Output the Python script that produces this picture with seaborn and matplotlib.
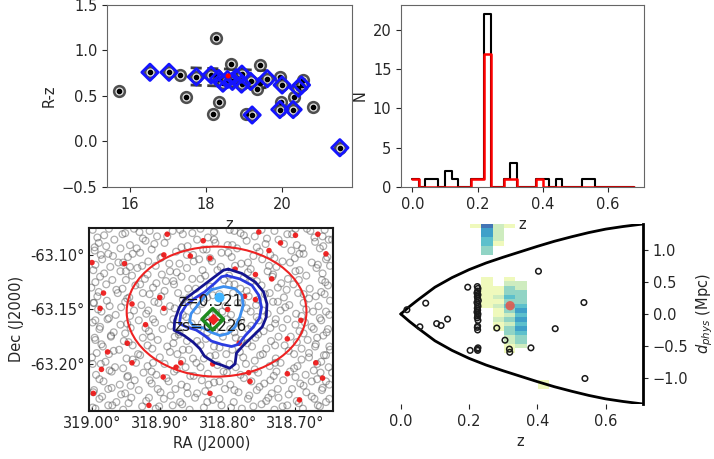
import numpy as np
import matplotlib
matplotlib.use("Agg")
import matplotlib.pyplot as plt
from matplotlib.patches import Ellipse
from matplotlib.ticker import FuncFormatter
import seaborn as sns

# colour-magnitude diagram (top left)
oth_mag = [15.71, 17.32, 17.49, 18.28, 18.18, 18.34, 18.65, 19.44, 19.07,
           19.95, 19.99, 20.33, 20.55, 20.81, 19.42, 19.35, 18.28]
oth_col = [0.555, 0.727, 0.49, 1.134, 0.30, 0.43, 0.85, 0.84, 0.30,
           0.71, 0.43, 0.49, 0.68, 0.376, 0.64, 0.58, 0.73]
mem_mag = [16.53, 17.03, 17.75, 18.14, 18.34, 18.45, 18.57, 18.70, 18.80,
           18.95, 18.94, 19.18, 19.22, 19.62, 20.01, 19.95, 20.30, 20.44, 20.52, 21.53]
mem_col = [0.76, 0.76, 0.71, 0.73, 0.69, 0.64, 0.68, 0.66, 0.70,
           0.74, 0.63, 0.66, 0.29, 0.69, 0.62, 0.35, 0.35, 0.585, 0.62, -0.07]
bcg_mag = [18.59]
bcg_col = [0.72]
rs_mag = [17.6, 19.6]
rs_hi = [0.81, 0.78]
rs_lo = [0.62, 0.59]

# redshift histogram (top right)
z_edges = [round(0.02 * i, 2) for i in range(35)]
all_counts = [1, 0, 1, 1, 0, 2, 1, 0, 0, 1, 1, 22, 0, 0, 1, 3, 0,
              0, 0, 1, 1, 0, 1, 0, 0, 0, 1, 1, 0, 0, 0, 0, 0, 0]
mem_counts = [1, 0, 0, 0, 0, 0, 0, 0, 0, 1, 1, 17, 0, 0, 1, 1, 0,
              0, 0, 1, 0, 0, 0, 0, 0, 0, 0, 0, 0, 0, 0, 0, 0, 0]

# sky map (bottom left)
bg_ra = [
    318.999, 318.982, 318.951, 318.938, 318.904, 318.881, 318.866, 318.829, 318.797, 318.781, 318.760, 318.731, 318.712, 318.683, 318.660,
    318.990, 318.967, 318.944, 318.921, 318.893, 318.859, 318.845, 318.818, 318.800, 318.772, 318.744, 318.725, 318.698, 318.671, 318.651,
    318.996, 318.976, 318.958, 318.929, 318.912, 318.876, 318.851, 318.836, 318.809, 318.786, 318.753, 318.737, 318.706, 318.688, 318.664,
    318.985, 318.961, 318.947, 318.917, 318.899, 318.871, 318.842, 318.823, 318.794, 318.770, 318.749, 318.719, 318.701, 318.676, 318.655,
    318.998, 318.973, 318.950, 318.933, 318.906, 318.885, 318.860, 318.815, 318.789, 318.766, 318.741, 318.728, 318.694, 318.669, 318.649,
    318.988, 318.970, 318.941, 318.922, 318.891, 318.868, 318.852, 318.833, 318.805, 318.776, 318.757, 318.734, 318.711, 318.684, 318.661,
    319.001, 318.979, 318.955, 318.936, 318.910, 318.879, 318.847, 318.826, 318.798, 318.781, 318.750, 318.726, 318.703, 318.679, 318.652,
    318.992, 318.962, 318.945, 318.915, 318.898, 318.873, 318.857, 318.822, 318.792, 318.769, 318.745, 318.717, 318.696, 318.670, 318.657,
    318.997, 318.974, 318.951, 318.927, 318.902, 318.885, 318.858, 318.838, 318.803, 318.779, 318.758, 318.733, 318.709, 318.688, 318.666,
    318.986, 318.965, 318.938, 318.920, 318.894, 318.866, 318.845, 318.817, 318.795, 318.766, 318.741, 318.722, 318.699, 318.674, 318.650,
    318.999, 318.977, 318.948, 318.931, 318.907, 318.880, 318.853, 318.830, 318.801, 318.785, 318.754, 318.730, 318.712, 318.686, 318.662,
    318.989, 318.968, 318.943, 318.916, 318.896, 318.871, 318.843, 318.819, 318.790, 318.770, 318.747, 318.719, 318.694, 318.673, 318.654,
    318.995, 318.972, 318.953, 318.925, 318.903, 318.878, 318.860, 318.832, 318.807, 318.780, 318.759, 318.736, 318.707, 318.682, 318.668,
    318.984, 318.960, 318.940, 318.911, 318.889, 318.866, 318.840, 318.812, 318.793, 318.764, 318.743, 318.716, 318.691, 318.671, 318.649,
    319.000, 318.975, 318.949, 318.929, 318.900, 318.874, 318.851, 318.826, 318.802, 318.777, 318.752, 318.729, 318.702, 318.680, 318.658,
    318.987, 318.966, 318.935, 318.918, 318.893, 318.862, 318.846, 318.815, 318.788, 318.773, 318.738, 318.722, 318.697, 318.668, 318.651,
    318.994, 318.971, 318.947, 318.924, 318.905, 318.879, 318.855, 318.829, 318.806, 318.781, 318.755, 318.732, 318.708, 318.685, 318.663,
    318.983, 318.959, 318.937, 318.912, 318.887, 318.868, 318.838, 318.820, 318.796, 318.765, 318.746, 318.718, 318.693, 318.676, 318.650,
    318.998, 318.976, 318.951, 318.931, 318.899, 318.877, 318.859, 318.833, 318.804, 318.784, 318.757, 318.735, 318.705, 318.684, 318.661,
    318.989, 318.964, 318.942, 318.920, 318.894, 318.870, 318.848, 318.822, 318.791, 318.770, 318.743, 318.725, 318.698, 318.672, 318.655,
    318.995, 318.970, 318.954, 318.926, 318.906, 318.881, 318.856, 318.835, 318.809, 318.779, 318.762, 318.731, 318.712, 318.689, 318.664,
    318.992, 318.955, 318.925, 318.889, 318.852, 318.820, 318.776, 318.742, 318.705, 318.672, 318.646,
    318.979, 318.934, 318.908, 318.868, 318.831, 318.793, 318.757, 318.717, 318.690, 318.659, 318.996,
    318.969, 318.940, 318.897, 318.860, 318.826, 318.799, 318.762, 318.731, 318.694, 318.653, 318.987,
    318.995, 318.954, 318.926, 318.886, 318.850, 318.810, 318.780, 318.739, 318.708, 318.667, 318.944,
    318.982, 318.958, 318.918, 318.875, 318.837, 318.798, 318.770, 318.733, 318.700, 318.660, 318.897,
    318.995, 318.950, 318.905, 318.880, 318.840, 318.790, 318.765, 318.721, 318.695, 318.656, 318.929,
    318.990, 318.964, 318.925, 318.893, 318.858, 318.812, 318.772, 318.738, 318.713, 318.662, 318.688,
    318.978, 318.948, 318.908, 318.866, 318.830, 318.785, 318.755, 318.726, 318.680, 318.649, 318.998,
    318.991, 318.957, 318.917, 318.878, 318.850, 318.808, 318.772, 318.748, 318.715, 318.684, 318.655,
    318.975, 318.944, 318.910, 318.861, 318.823, 318.780, 318.757, 318.729, 318.691, 318.664, 318.995,
    318.988, 318.958, 318.921, 318.884, 318.838, 318.796, 318.765, 318.737, 318.700, 318.676, 318.652,
    318.972, 318.951, 318.913, 318.872, 318.830, 318.788, 318.755, 318.725, 318.688, 318.659, 318.996,
    318.986, 318.946, 318.918, 318.880, 318.845, 318.820, 318.771, 318.730, 318.698, 318.670, 318.650,
    318.993, 318.968, 318.932, 318.885, 318.857, 318.818, 318.782, 318.748, 318.710, 318.680, 318.655,
    318.980, 318.940, 318.910, 318.867, 318.835, 318.797, 318.760, 318.730, 318.691, 318.662, 318.999,
    318.974, 318.954, 318.912, 318.875, 318.840, 318.801, 318.760, 318.728, 318.702, 318.673, 318.646,
    318.989, 318.948, 318.915, 318.890, 318.850, 318.812, 318.776, 318.737, 318.700, 318.668, 318.655,
    318.971, 318.943, 318.903, 318.860, 318.828, 318.790, 318.753, 318.726, 318.688, 318.660, 318.997,
    318.985, 318.957, 318.916, 318.884, 318.845, 318.812, 318.768, 318.740, 318.710, 318.676, 318.650,
    318.976, 318.946, 318.901, 318.867, 318.830, 318.795, 318.750, 318.719, 318.695, 318.667, 318.999,
    318.975, 318.915, 318.870, 318.840, 318.790, 318.750, 318.700, 318.678, 318.930, 318.820, 318.657]
bg_dec = [
    -63.077, -63.082, -63.080, -63.076, -63.083, -63.078, -63.081, -63.084, -63.077, -63.080, -63.083, -63.078, -63.081, -63.076, -63.083,
    -63.089, -63.086, -63.091, -63.087, -63.089, -63.092, -63.086, -63.089, -63.091, -63.087, -63.090, -63.086, -63.091, -63.088, -63.086,
    -63.096, -63.099, -63.094, -63.098, -63.095, -63.097, -63.100, -63.095, -63.098, -63.094, -63.097, -63.100, -63.096, -63.099, -63.094,
    -63.104, -63.107, -63.102, -63.106, -63.103, -63.108, -63.104, -63.106, -63.102, -63.107, -63.104, -63.106, -63.103, -63.107, -63.104,
    -63.114, -63.111, -63.115, -63.112, -63.110, -63.115, -63.112, -63.114, -63.110, -63.113, -63.115, -63.111, -63.114, -63.112, -63.110,
    -63.120, -63.123, -63.119, -63.122, -63.124, -63.120, -63.122, -63.119, -63.123, -63.121, -63.124, -63.120, -63.122, -63.119, -63.123,
    -63.130, -63.127, -63.131, -63.128, -63.130, -63.127, -63.131, -63.129, -63.127, -63.131, -63.128, -63.130, -63.127, -63.131, -63.128,
    -63.138, -63.135, -63.139, -63.136, -63.138, -63.135, -63.139, -63.137, -63.135, -63.138, -63.136, -63.139, -63.135, -63.138, -63.136,
    -63.144, -63.147, -63.143, -63.146, -63.144, -63.147, -63.143, -63.145, -63.147, -63.144, -63.146, -63.143, -63.146, -63.144, -63.147,
    -63.152, -63.155, -63.151, -63.154, -63.152, -63.155, -63.151, -63.153, -63.155, -63.152, -63.154, -63.151, -63.154, -63.152, -63.155,
    -63.162, -63.159, -63.163, -63.160, -63.162, -63.159, -63.163, -63.161, -63.159, -63.162, -63.160, -63.163, -63.159, -63.162, -63.160,
    -63.168, -63.171, -63.167, -63.170, -63.168, -63.171, -63.167, -63.169, -63.171, -63.168, -63.170, -63.167, -63.170, -63.168, -63.171,
    -63.178, -63.175, -63.179, -63.176, -63.178, -63.175, -63.179, -63.177, -63.175, -63.178, -63.176, -63.179, -63.175, -63.178, -63.176,
    -63.184, -63.187, -63.183, -63.186, -63.184, -63.187, -63.183, -63.185, -63.187, -63.184, -63.186, -63.183, -63.186, -63.184, -63.187,
    -63.194, -63.191, -63.195, -63.192, -63.194, -63.191, -63.195, -63.193, -63.191, -63.194, -63.192, -63.195, -63.191, -63.194, -63.192,
    -63.200, -63.203, -63.199, -63.202, -63.200, -63.203, -63.199, -63.201, -63.203, -63.200, -63.202, -63.199, -63.202, -63.200, -63.203,
    -63.210, -63.207, -63.211, -63.208, -63.210, -63.207, -63.211, -63.209, -63.207, -63.210, -63.208, -63.211, -63.207, -63.210, -63.208,
    -63.216, -63.219, -63.215, -63.218, -63.216, -63.219, -63.215, -63.217, -63.219, -63.216, -63.218, -63.215, -63.218, -63.216, -63.219,
    -63.226, -63.223, -63.227, -63.224, -63.226, -63.223, -63.227, -63.225, -63.223, -63.226, -63.224, -63.227, -63.223, -63.226, -63.224,
    -63.232, -63.235, -63.231, -63.234, -63.232, -63.235, -63.231, -63.233, -63.235, -63.232, -63.234, -63.231, -63.234, -63.232, -63.235,
    -63.241, -63.238, -63.242, -63.239, -63.241, -63.238, -63.242, -63.240, -63.238, -63.241, -63.239, -63.242, -63.238, -63.241, -63.239,
    -63.084, -63.081, -63.085, -63.083, -63.080, -63.086, -63.082, -63.085, -63.081, -63.084, -63.086,
    -63.092, -63.094, -63.090, -63.093, -63.095, -63.091, -63.093, -63.090, -63.094, -63.092, -63.093,
    -63.101, -63.099, -63.102, -63.100, -63.103, -63.098, -63.101, -63.103, -63.099, -63.102, -63.100,
    -63.109, -63.107, -63.110, -63.108, -63.106, -63.111, -63.108, -63.110, -63.107, -63.109, -63.111,
    -63.117, -63.115, -63.118, -63.116, -63.114, -63.119, -63.116, -63.118, -63.115, -63.117, -63.118,
    -63.125, -63.123, -63.126, -63.124, -63.122, -63.127, -63.124, -63.126, -63.123, -63.125, -63.127,
    -63.134, -63.132, -63.135, -63.133, -63.131, -63.136, -63.133, -63.135, -63.132, -63.134, -63.136,
    -63.142, -63.140, -63.143, -63.141, -63.139, -63.144, -63.141, -63.143, -63.140, -63.142, -63.144,
    -63.150, -63.148, -63.151, -63.149, -63.147, -63.152, -63.149, -63.151, -63.148, -63.150, -63.152,
    -63.158, -63.156, -63.159, -63.157, -63.155, -63.160, -63.157, -63.159, -63.156, -63.158, -63.160,
    -63.166, -63.164, -63.167, -63.165, -63.163, -63.168, -63.165, -63.167, -63.164, -63.166, -63.168,
    -63.174, -63.172, -63.175, -63.173, -63.171, -63.176, -63.173, -63.175, -63.172, -63.174, -63.176,
    -63.182, -63.180, -63.183, -63.181, -63.179, -63.184, -63.181, -63.183, -63.180, -63.182, -63.184,
    -63.190, -63.188, -63.191, -63.189, -63.187, -63.192, -63.189, -63.191, -63.188, -63.190, -63.192,
    -63.198, -63.196, -63.199, -63.197, -63.195, -63.200, -63.197, -63.199, -63.196, -63.198, -63.200,
    -63.206, -63.204, -63.207, -63.205, -63.203, -63.208, -63.205, -63.207, -63.204, -63.206, -63.208,
    -63.214, -63.212, -63.215, -63.213, -63.211, -63.216, -63.213, -63.215, -63.212, -63.214, -63.216,
    -63.222, -63.220, -63.223, -63.221, -63.219, -63.224, -63.221, -63.223, -63.220, -63.222, -63.224,
    -63.230, -63.228, -63.231, -63.229, -63.227, -63.232, -63.229, -63.231, -63.228, -63.230, -63.232,
    -63.238, -63.236, -63.239, -63.237, -63.235, -63.240, -63.237, -63.239, -63.236, -63.238, -63.240,
    -63.076, -63.078, -63.077, -63.076, -63.078, -63.077, -63.076, -63.078, -63.079, -63.079, -63.077]
red_ra = [318.889, 318.836, 318.754, 318.700, 318.667, 318.722, 318.655, 318.739,
          318.894, 318.855, 318.826, 318.952, 319.000, 318.789, 318.759, 318.983,
          318.988, 318.894, 318.800, 318.759, 318.692, 318.921, 318.977, 318.948,
          318.941, 318.869, 318.822, 318.783, 318.712, 318.670, 318.769, 318.712,
          318.895, 318.767, 318.694, 318.916, 318.998, 318.826, 318.660, 318.839,
          318.876, 318.986, 318.900, 318.941, 318.735, 318.775]
red_dec = [-63.081, -63.087, -63.079, -63.082, -63.081, -63.089, -63.099, -63.096,
           -63.100, -63.101, -63.103, -63.108, -63.107, -63.113, -63.118, -63.135,
           -63.149, -63.149, -63.150, -63.141, -63.160, -63.164, -63.189, -63.181,
           -63.199, -63.199, -63.200, -63.181, -63.177, -63.199, -63.208, -63.209,
           -63.212, -63.216, -63.233, -63.238, -63.227, -63.227, -63.213, -63.138,
           -63.203, -63.205, -63.139, -63.145, -63.122, -63.138]
cont_outer_ra = [318.799, 318.779, 318.759, 318.747, 318.742, 318.743, 318.749, 318.762,
                 318.777, 318.787, 318.789, 318.797, 318.809, 318.819, 318.834, 318.841,
                 318.851, 318.864, 318.879, 318.878, 318.871, 318.864, 318.851, 318.836,
                 318.819, 318.806, 318.799]
cont_outer_dec = [-63.113, -63.117, -63.125, -63.134, -63.145, -63.157, -63.166, -63.174,
                  -63.183, -63.190, -63.200, -63.204, -63.201, -63.199, -63.193, -63.186,
                  -63.180, -63.174, -63.169, -63.160, -63.148, -63.141, -63.135, -63.128,
                  -63.120, -63.114, -63.113]
cont_mid_ra = [318.801, 318.782, 318.764, 318.754, 318.750, 318.753, 318.762, 318.774,
               318.784, 318.794, 318.809, 318.824, 318.834, 318.846, 318.861, 318.871,
               318.869, 318.861, 318.849, 318.834, 318.819, 318.809, 318.801]
cont_mid_dec = [-63.119, -63.122, -63.128, -63.137, -63.148, -63.158, -63.166, -63.174,
                -63.182, -63.184, -63.182, -63.179, -63.174, -63.169, -63.166, -63.163,
                -63.154, -63.146, -63.140, -63.134, -63.126, -63.120, -63.119]
cont_in_ra = [318.824, 318.806, 318.789, 318.779, 318.777, 318.782, 318.789, 318.799,
              318.811, 318.824, 318.836, 318.849, 318.856, 318.854, 318.844, 318.834, 318.824]
cont_in_dec = [-63.132, -63.129, -63.131, -63.137, -63.146, -63.157, -63.166, -63.172,
               -63.174, -63.171, -63.167, -63.166, -63.161, -63.154, -63.146, -63.138, -63.132]
peak_ra, peak_dec = 318.813, -63.139
cen_ra, cen_dec = 318.822, -63.159
circ_ra, circ_dec, circ_w, circ_h = 318.8163, -63.152, 0.265, 0.1193

# cone diagram (bottom right)
cone_z = [0.0, 0.025, 0.05, 0.1, 0.15, 0.2, 0.25, 0.3, 0.35, 0.4, 0.45, 0.5, 0.55, 0.6, 0.65, 0.709]
cone_d = [0.0, 0.115, 0.22, 0.42, 0.57, 0.695, 0.80, 0.89, 0.975, 1.06, 1.14, 1.21, 1.275, 1.33, 1.37, 1.41]
gal_z = [0.018, 0.073, 0.056, 0.105, 0.118, 0.137, 0.196, 0.203,
         0.224, 0.226, 0.225, 0.223, 0.226, 0.224, 0.225, 0.227, 0.223, 0.225,
         0.226, 0.224, 0.225, 0.223, 0.226, 0.225, 0.224, 0.226, 0.225, 0.224,
         0.225, 0.226, 0.224, 0.225,
         0.281, 0.305, 0.318, 0.319, 0.403, 0.536, 0.452, 0.381, 0.539]
gal_d = [0.067, 0.17, -0.20, -0.15, -0.18, -0.08, 0.42, -0.57,
         0.43, 0.40, 0.36, 0.33, 0.30, 0.27, 0.24, 0.21, 0.18, 0.15,
         0.12, 0.09, 0.06, 0.03, 0.0, -0.03, -0.06, -0.10, -0.19, -0.21,
         -0.25, -0.53, -0.55, -0.57,
         -0.22, -0.41, -0.55, -0.60, 0.67, 0.18, -0.23, -0.53, -1.01]
clus_z = [0.32]
clus_d = [0.13]
heat_z = ([0.2195] + [0.2525] * 14 + [0.2855] * 15 + [0.3185] * 18 + [0.3515] * 15 + [0.4175] * 2)
heat_d = [1.385,
          1.385, 1.315, 1.245, 1.175, 1.105, 1.035, 0.965, 0.545, 0.475, 0.405, 0.335, 0.265, 0.195, 0.125,
          1.385, 1.315, 1.245, 1.175, 1.105, 0.405, 0.335, 0.265, 0.195, 0.125, 0.055, -0.015, -0.085, -0.155, -0.225,
          1.385, 0.545, 0.475, 0.405, 0.335, 0.265, 0.195, 0.125, 0.055, -0.015, -0.085, -0.155, -0.225, -0.295,
          -0.365, -0.435, -0.505, -0.575,
          0.475, 0.405, 0.335, 0.265, 0.195, 0.125, 0.055, -0.015, -0.085, -0.155, -0.225, -0.295, -0.365, -0.435, -0.505,
          -1.065, -1.135]
heat_w = [1,
          6, 5, 5, 4, 4, 3, 3, 1, 1, 1, 1, 1, 1, 1,
          2, 2, 2, 2, 1, 1, 1, 2, 1, 2, 1, 1, 2, 1, 1,
          1, 1, 2, 3, 3, 4, 3, 4, 3, 2, 3, 2, 3, 3, 2, 2, 1, 1,
          2, 2, 3, 3, 3, 4, 5, 4, 5, 4, 5, 4, 3, 3, 2,
          1, 1]
heat_zbins = [0.203, 0.236, 0.269, 0.302, 0.335, 0.368, 0.401, 0.434]
heat_dbins = np.round(np.arange(-1.24, 1.43, 0.07), 3)

sns.set_style("ticks")
plt.rcParams["font.family"] = ["DejaVu Sans"]
plt.rcParams["font.size"] = 10.5

fig = plt.figure(figsize=(7.14, 4.59), dpi=100)

# top left: colour vs magnitude
ax1 = fig.add_axes([0.150, 0.593, 0.343, 0.396])
ax1.plot(rs_mag, rs_hi, ls=(0, (4, 2)), color="0.25", lw=2)
ax1.plot(rs_mag, rs_lo, ls=(0, (4, 2)), color="0.25", lw=2)
ax1.scatter(oth_mag + mem_mag, oth_col + mem_col, s=60, facecolors="0.85",
            edgecolors="0.15", linewidths=1.8, alpha=0.8, zorder=3)
ax1.scatter(oth_mag + mem_mag, oth_col + mem_col, s=9, color="k", zorder=4)
ax1.scatter(mem_mag, mem_col, marker="D", s=70, facecolors="none",
            edgecolors="#1414ff", linewidths=2, zorder=5)
sns.scatterplot(x=bcg_mag, y=bcg_col, color="red", s=14, edgecolor="none", zorder=6, ax=ax1)
ax1.set_xlim(15.4, 21.85)
ax1.set_ylim(-0.5, 1.5)
ax1.set_xticks([16, 18, 20])
ax1.set_yticks([-0.5, 0.0, 0.5, 1.0, 1.5])
ax1.set_xlabel("z")
ax1.set_ylabel("R-z")

# top right: redshift histogram
ax2 = fig.add_axes([0.562, 0.593, 0.340, 0.396])
z_mid = [(a + b) / 2 for a, b in zip(z_edges[:-1], z_edges[1:])]
sns.histplot(x=z_mid, weights=all_counts, bins=z_edges, element="step",
             fill=False, color="k", lw=1.5, ax=ax2)
sns.histplot(x=z_mid, weights=mem_counts, bins=z_edges, element="step",
             fill=False, color="red", lw=1.8, ax=ax2)
ax2.set_xlim(-0.034, 0.71)
ax2.set_ylim(0, 23.2)
ax2.set_xticks([0.0, 0.2, 0.4, 0.6])
ax2.set_yticks([0, 5, 10, 15, 20])
ax2.set_xlabel("z")
ax2.set_ylabel("N")

for ax in (ax1, ax2):
    for sp in ax.spines.values():
        sp.set_color("0.4")

# bottom left: sky map
ax3 = fig.add_axes([0.125, 0.105, 0.342, 0.399])
ax3.scatter(bg_ra, bg_dec, s=24, facecolors="none", edgecolors="0.3",
            linewidths=0.9, alpha=0.45)
sns.scatterplot(x=red_ra, y=red_dec, color="#ee1111", s=16, edgecolor="none",
                alpha=0.9, ax=ax3)
ax3.add_patch(Ellipse((circ_ra, circ_dec), circ_w, circ_h, fill=False,
                      ec="#ee2222", lw=1.5))
ax3.plot(cont_outer_ra, cont_outer_dec, color="#14148f", lw=2)
ax3.plot(cont_mid_ra, cont_mid_dec, color="#2a3be0", lw=2)
ax3.plot(cont_in_ra, cont_in_dec, color="#3d8ff0", lw=2)
ax3.text(318.872, -63.143, "z=0.321", fontsize=11, va="center", ha="left",
         color="0.1", zorder=3)
ax3.text(318.879, -63.166, "zs=0.226", fontsize=11, va="center", ha="left",
         color="0.1", zorder=3)
ax3.scatter([peak_ra], [peak_dec], s=38, color="#40b4ff", zorder=5)
ax3.scatter([cen_ra], [cen_dec], marker="D", s=120, facecolors="none",
            edgecolors="#1e8a1e", linewidths=2.5, zorder=5)
ax3.scatter([cen_ra], [cen_dec], marker="D", s=25, color="#ee2222", zorder=6)
ax3.set_xlim(319.004, 318.644)
ax3.set_ylim(-63.243, -63.075)
ax3.set_xticks([319.0, 318.9, 318.8, 318.7])
ax3.set_yticks([-63.20, -63.15, -63.10])
deg = FuncFormatter(lambda v, p: f"{v:.2f}°")
ax3.xaxis.set_major_formatter(deg)
ax3.yaxis.set_major_formatter(deg)
ax3.tick_params(direction="in", length=3)
for sp in ax3.spines.values():
    sp.set_linewidth(1.5)
    sp.set_color("0.1")
ax3.set_xlabel("RA (J2000)")
ax3.set_ylabel("Dec (J2000)")

# bottom right: cone diagram
ax4 = fig.add_axes([0.5565, 0.1198, 0.3441, 0.3922])
ax4.patch.set_visible(False)
sns.histplot(x=heat_z, y=heat_d, weights=heat_w, bins=[heat_zbins, heat_dbins],
             cmap="YlGnBu", vmin=0, vmax=8, alpha=0.85, ax=ax4)
ax4.plot(cone_z, cone_d, color="k", lw=2)
ax4.plot(cone_z, [-v for v in cone_d], color="k", lw=2)
ax4.scatter(gal_z, gal_d, s=16, facecolors="none", edgecolors="0.1", linewidths=1.1, zorder=4)
sns.scatterplot(x=clus_z, y=clus_d, color="#e05a50", s=45, edgecolor="none",
                alpha=0.9, zorder=5, ax=ax4)
ax4.set_xlim(-0.01, 0.709)
ax4.set_ylim(-1.41, 1.41)
for side in ("left", "top", "bottom"):
    ax4.spines[side].set_visible(False)
ax4.spines["right"].set_linewidth(2)
ax4.spines["right"].set_color("k")
ax4.yaxis.tick_right()
ax4.yaxis.set_label_position("right")
ax4.set_xticks([0.0, 0.2, 0.4, 0.6])
ax4.set_yticks([-1.0, -0.5, 0.0, 0.5, 1.0])
ax4.set_xlabel("z")
ax4.set_ylabel(r"$d_{phys}$ (Mpc)")

fig.savefig("out.png", dpi=100)
